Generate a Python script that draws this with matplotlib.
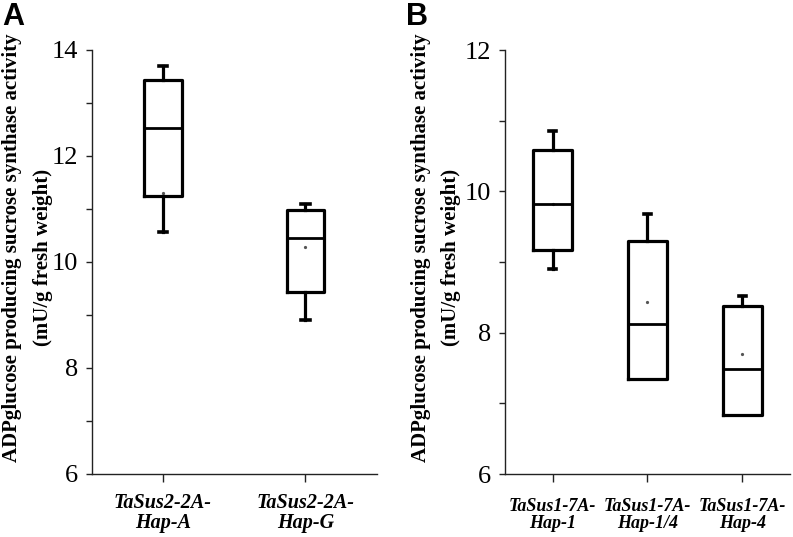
import matplotlib
matplotlib.use("Agg")
import matplotlib.pyplot as plt
from matplotlib.ticker import MultipleLocator

# ---- data ----
a_labels = ["TaSus2-2A-\nHap-A", "TaSus2-2A-\nHap-G"]
a_whislo = [10.57, 8.91]
a_q1 = [11.25, 9.43]
a_med = [12.52, 10.45]
a_q3 = [13.43, 10.98]
a_whishi = [13.69, 11.10]
a_mean = [11.30, 10.29]

b_labels = ["TaSus1-7A-\nHap-1", "TaSus1-7A-\nHap-1/4", "TaSus1-7A-\nHap-4"]
b_whislo = [8.90, 7.34, 6.83]
b_q1 = [9.17, 7.34, 6.83]
b_med = [9.82, 8.12, 7.49]
b_q3 = [10.59, 9.30, 8.38]
b_whishi = [10.85, 9.68, 8.52]
b_mean = [9.82, 8.43, 7.70]

ylabel_l1 = "ADPglucose producing sucrose synthase activity"
ylabel_l2 = "(mU/g fresh weight)"

fig = plt.figure(figsize=(7.93, 5.37), dpi=100)
W, H = 793, 537

def px_axes(x0, x1, y0, y1):
    return fig.add_axes([x0 / W, 1 - y1 / H, (x1 - x0) / W, (y1 - y0) / H])

axA = px_axes(91.7, 376.7, 50, 474)
axB = px_axes(505, 790, 50, 474)

def draw(ax, labels, wl, q1, med, q3, wh, mean, ylim, width, capw, xfs, xpad):
    stats = []
    for i in range(len(labels)):
        stats.append(dict(whislo=wl[i], q1=q1[i], med=med[i], q3=q3[i],
                          whishi=wh[i], fliers=[], label=labels[i]))
    pos = list(range(1, len(labels) + 1))
    res = ax.bxp(stats, positions=pos, widths=width, showfliers=False,
                 capwidths=capw,
                 boxprops=dict(color="black", linewidth=2.3),
                 medianprops=dict(color="black", linewidth=2.0),
                 whiskerprops=dict(color="black", linewidth=2.3),
                 capprops=dict(color="black", linewidth=2.6))
    # hide lower caps where the whisker has zero length
    for i in range(len(labels)):
        if wl[i] >= q1[i]:
            res["caps"][2 * i].set_visible(False)
    ax.plot(pos, mean, linestyle="none", marker="o", markersize=1.3,
            color="#555555", zorder=1)
    ax.set_xlim(0.5, len(labels) + 0.5)
    ax.set_ylim(*ylim)
    ax.yaxis.set_major_locator(MultipleLocator(2))
    ax.yaxis.set_minor_locator(MultipleLocator(1))
    for s in ["top", "right"]:
        ax.spines[s].set_visible(False)
    for s in ["left", "bottom"]:
        ax.spines[s].set_linewidth(1.0)
        ax.spines[s].set_color("#222222")
    ax.tick_params(axis="y", which="both", direction="out", length=4,
                   width=1.0, color="#222222", pad=6)
    ax.tick_params(axis="x", direction="out", length=5.5, width=1.0,
                   color="#222222", pad=xpad)
    for t in ax.get_yticklabels():
        t.set_fontfamily("Liberation Serif")
        t.set_fontsize(19)
    ax.set_xticks(pos)
    ax.set_xticklabels(labels, fontfamily="Liberation Serif",
                       fontweight="bold", fontstyle="italic",
                       fontsize=xfs, linespacing=1.0)

draw(axA, a_labels, a_whislo, a_q1, a_med, a_q3, a_whishi, a_mean,
     (6, 14), 0.265, 0.06, 14.5, 8)
draw(axB, b_labels, b_whislo, b_q1, b_med, b_q3, b_whishi, b_mean,
     (6, 12), 0.41, 0.07, 13, 12)

# y labels
for x1, x2 in [(12, 43), (421, 451)]:
    fig.text(x1 / W, 1 - 248 / H, ylabel_l1, rotation=90, ha="center",
             va="center", fontfamily="Liberation Serif", fontweight="bold",
             fontsize=15)
    fig.text(x2 / W, 1 - 257 / H, ylabel_l2, rotation=90, ha="center",
             va="center", fontfamily="Liberation Serif", fontweight="bold",
             fontsize=15)

fig.text(2 / W, 1 - 2 / H, "A", ha="left", va="top",
         fontfamily="Liberation Sans", fontweight="bold", fontsize=22)
fig.text(406 / W, 1 - 2 / H, "B", ha="left", va="top",
         fontfamily="Liberation Sans", fontweight="bold", fontsize=22)

fig.savefig("out.png", dpi=100)
